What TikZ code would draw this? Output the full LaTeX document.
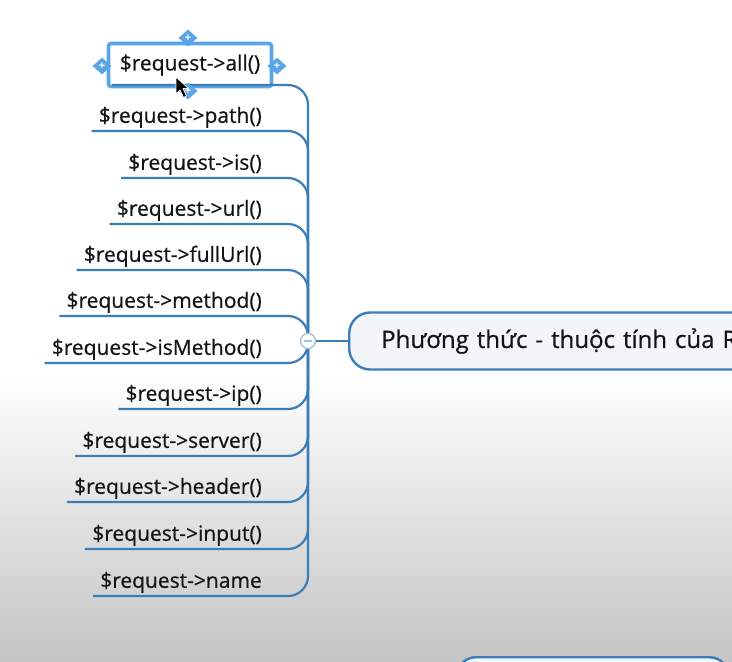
\documentclass[tikz,border=0pt]{standalone}
\usepackage{fontspec}
\setmainfont{Open Sans}
\newfontfamily\mapfont[FakeBold=0.6]{Open Sans}
\usetikzlibrary{shapes.geometric}
\definecolor{branchblue}{HTML}{3A7DB7}
\definecolor{selblue}{HTML}{5BA5E6}
\definecolor{nodefill}{HTML}{F2F5F9}
\definecolor{bggray}{HTML}{C4C4C4}
\definecolor{circgray}{HTML}{A9BFD3}
\begin{document}
\begin{tikzpicture}[x=1pt,y=-1pt,
  itemtext/.style={anchor=south east,inner sep=0pt,text depth=8pt,
    font=\mapfont\fontsize{21}{25}\selectfont,text=black!92},
  branch/.style={draw=branchblue,line width=2.2pt,rounded corners=20pt},
  mainnode/.style={draw=branchblue,line width=2.4pt,fill=nodefill,
    rounded corners=21pt,minimum height=57pt,text width=400pt,align=left,
    inner xsep=32pt,anchor=west,text=black!92,
    font=\mapfont\fontsize{24}{28}\selectfont},
  selbox/.style={draw=selblue,line width=3.6pt,fill=white,rounded corners=2.5pt,
    minimum width=163pt,minimum height=43pt,inner sep=0pt,
    font=\mapfont\fontsize{21}{25}\selectfont,text=black!92},
  handle/.style={diamond,fill=selblue,minimum width=19pt,minimum height=17pt,
    inner sep=0pt,font=\bfseries\fontsize{11}{11}\selectfont,text=white},
  collapse/.style={circle,draw=circgray,fill=white,line width=1.3pt,
    minimum size=15pt,inner sep=0pt}]
\useasboundingbox (0,0) rectangle (732,662);
\clip (0,0) rectangle (732,662);
% background
\fill[white] (0,0) rectangle (732,372);
\shade[top color=white,bottom color=bggray] (0,372) rectangle (732,662);

% collapse point (drawn again on top later)
\coordinate (hub) at (308,341);

% item texts
\node[itemtext] (n1)  at (262,131) {\$request->path()};
\node[itemtext] (n2)  at (262,178) {\$request->is()};
\node[itemtext] (n3)  at (262,224) {\$request->url()};
\node[itemtext] (n4)  at (262,270) {\$request->fullUrl()};
\node[itemtext] (n5)  at (262,316) {\$request->method()};
\node[itemtext] (n6)  at (262,363) {\$request->isMethod()};
\node[itemtext] (n7)  at (262,409) {\$request->ip()};
\node[itemtext] (n8)  at (262,456) {\$request->server()};
\node[itemtext] (n9)  at (262,502) {\$request->header()};
\node[itemtext] (n10) at (262,549) {\$request->input()};
\node[itemtext] (n11) at (262,596) {\$request->name};

% branches with underlines
\foreach \i in {1,...,11}{
  \draw[branch] (hub) |- ([xshift=-7pt]n\i.south west);
}

% selected item
\node[selbox] (all) at (190,65) {\$request->all()};
\coordinate (allend) at (112,85);
\draw[branch] (hub) |- (allend);
\node[handle] (htop) at (188,38) {+};
\node[handle] (hleft) at (102,66) {+};
\node[handle] (hright) at (277,66) {+};
\node[handle] (hbot) at (188,91) {+};
% mouse cursor
\filldraw[fill=black,draw=white,line width=0.8pt,line join=round]
  (176,77) -- (176,94) -- (180,90) -- (183.5,97.5) -- (186.5,96) -- (183,88.5) -- (188.5,88.5) -- cycle;

% main node
\node[mainnode] (main) at (348,341) {Phương thức - thuộc tính của R};
\node[collapse] (c) at (hub) {};
\draw[circgray,line width=1.3pt] ([xshift=-4pt]c.center) -- ([xshift=4pt]c.center);
\draw[branchblue,line width=2.2pt] (c.east) -- (main.west);

% partially visible node at bottom
\node[draw=branchblue,line width=2.4pt,fill=nodefill,rounded corners=20pt,
  minimum width=273pt,minimum height=50pt,anchor=north west] (next) at (455,656) {};
\end{tikzpicture}
\end{document}
